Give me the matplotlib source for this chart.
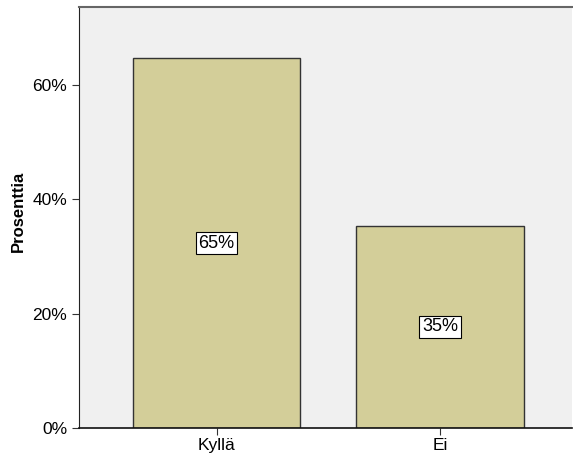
import matplotlib
matplotlib.use("Agg")
import matplotlib.pyplot as plt

# Vastausten jakauma prosentteina
categories = ["Kyllä", "Ei"]
percents = [64.6, 35.4]
yticks = [0, 20, 40, 60]

plt.rcParams['font.family'] = ['Liberation Sans', 'DejaVu Sans']

fig = plt.figure(figsize=(5.73, 4.61), dpi=100)
ax = fig.add_axes([79 / 573, 33 / 461, 493 / 573, 421 / 461])
ax.set_facecolor("#f0f0f0")

x = list(range(len(categories)))
bars = ax.bar(x, percents, width=0.75, color="#d3ce99", edgecolor="#333333", linewidth=1.0, zorder=2)

# arvolaatikot pylväiden keskelle
for xi, p in zip(x, percents):
    ax.text(xi, p / 2, "{:.0f}%".format(p), ha="center", va="center", fontsize=13,
            bbox=dict(boxstyle="square,pad=0.15", facecolor="white", edgecolor="black", linewidth=0.8),
            zorder=3)

ax.set_xlim(-0.616, 1.59)
ax.set_ylim(0, 73.6)
ax.set_xticks(x)
ax.set_xticklabels(categories, fontsize=12.5)
ax.set_yticks(yticks)
ax.set_yticklabels(["{}%".format(t) for t in yticks], fontsize=12.5)
ax.tick_params(axis="both", direction="out", length=5, width=0.8, color="#333333")
ax.tick_params(axis="x", pad=2)
ax.set_ylabel("Prosenttia", fontsize=12, fontweight="bold")
ax.yaxis.set_label_coords(-0.108, 0.515)

ax.spines["left"].set_color("#222222")
ax.spines["bottom"].set_color("#111111")
ax.spines["bottom"].set_linewidth(1.2)
ax.spines["top"].set_color("#666666")
ax.spines["top"].set_linewidth(1.5)
ax.spines["right"].set_visible(False)

fig.savefig("out.png", dpi=100)
